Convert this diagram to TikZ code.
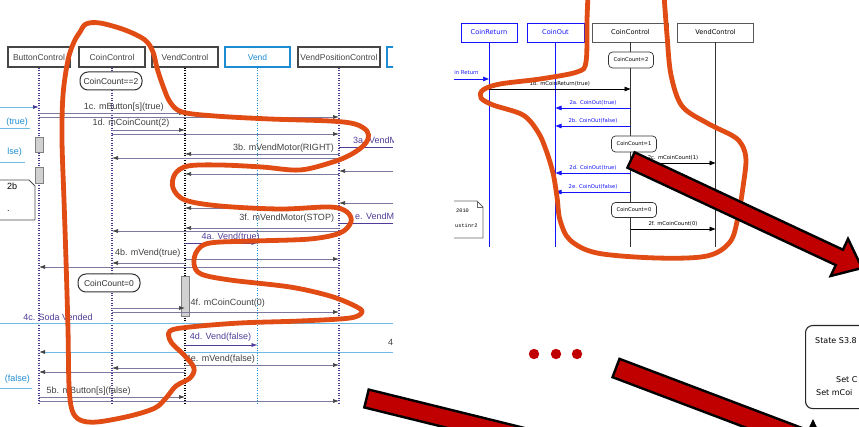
\documentclass[tikz,border=0pt]{standalone}
\usepackage{fontspec}
\setmainfont{Liberation Sans}
\newfontfamily\umlfont{DejaVu Sans}
\newfontfamily\notefont{Liberation Mono}
\usetikzlibrary{positioning}
\usetikzlibrary{arrows.meta}
\usetikzlibrary{calc}

\definecolor{boxgray}{RGB}{70,70,70}
\definecolor{vendblue}{RGB}{30,140,210}
\definecolor{lifepurple}{RGB}{70,60,150}
\definecolor{msggray}{RGB}{125,120,160}
\definecolor{msgpurple}{RGB}{80,60,150}
\definecolor{paleblue}{RGB}{110,185,225}
\definecolor{loopred}{RGB}{225,75,20}
\definecolor{blockred}{RGB}{192,0,0}
\definecolor{umlblue}{RGB}{20,20,250}

% block arrow: tail point, angle, length, half width of the shaft
\newcommand*{\BlockArrow}[4]{%
  \begin{scope}[shift={(#1)}, rotate=#2]
    \draw[blockarrow] (0,-#4) -- ({#3-25},-#4) -- ({#3-25},-20.5) -- (#3,0)
      -- ({#3-25},20.5) -- ({#3-25},#4) -- (0,#4) -- cycle;
  \end{scope}}

\tikzset{
  objbox/.style={draw=boxgray, line width=1.3pt, fill=white,
    minimum width=66pt, minimum height=20pt, inner sep=1pt,
    text=boxgray, font=\fontsize{8.5}{9}\selectfont},
  bluebox/.style={objbox, draw=vendblue, text=vendblue},
  lifeline/.style={lifepurple, line width=1.4pt, dash pattern=on 1.2pt off 1.3pt},
  msg/.style={draw=msggray, line width=0.6pt,
    -{Latex[length=6pt,width=4pt,color=black!75]}},
  lbl/.style={font=\fontsize{9}{10}\selectfont, text=black!75, inner sep=1pt},
  statebox/.style={draw=black!80, line width=1pt, fill=white, rounded corners=8pt,
    minimum width=62pt, minimum height=18pt, inner sep=1pt,
    font=\fontsize{8.5}{9}\selectfont, text=black!80},
  actbox/.style={draw=black!50, fill=black!18, line width=0.6pt,
    minimum width=8pt, inner sep=0pt},
  umlhead/.style={draw=black!65, line width=0.9pt, fill=white,
    minimum height=19pt, inner sep=1pt, font=\umlfont\fontsize{6.6}{7}\selectfont},
  umlbluehead/.style={umlhead, draw=umlblue, text=umlblue},
  umlstate/.style={draw=black!80, line width=0.7pt, fill=white, rounded corners=4pt,
    minimum width=45pt, minimum height=16pt, inner sep=1pt,
    font=\umlfont\fontsize{5.2}{6}\selectfont},
  umlmsg/.style={line width=0.7pt, -{Triangle[length=6pt,width=4.5pt]}},
  umllbl/.style={font=\umlfont\fontsize{5.3}{6}\selectfont, inner sep=1pt},
  redloop/.style={loopred, line width=4.8pt, line cap=round, line join=round},
  blockarrow/.style={draw=black, line width=2.4pt, fill=blockred, line join=miter}
}

\begin{document}
\begin{tikzpicture}[x=1pt, y=-1pt]
\useasboundingbox (0,0) rectangle (859,427);
\clip (0,0) rectangle (859,427);

% left sequence diagram
\begin{scope}
\clip (0,0) rectangle (393,427);
\node[objbox, minimum width=62pt] (bc) at (39,57) {ButtonControl};
\node[objbox] (cc) at (112,57) {CoinControl};
\node[objbox] (vc) at (185,57) {VendControl};
\node[bluebox, minimum width=65pt] (vd) at (257.5,57) {Vend};
\node[objbox, minimum width=82pt] (vp) at (339,57) {VendPositionControl};
\node[bluebox] (vx) at (420,57) {};

\foreach \n in {bc,cc,vp}
  \draw[lifeline] (\n.south) -- (\n.south |- 0,405);
\draw[lifeline, black] (vc.south) -- (vc.south |- 0,405);
\draw[lifeline, vendblue] (vd.south) -- (vd.south |- 0,405);

\node[statebox] (cnt2) at (111,81) {CoinCount==2};
\node[statebox] (cnt0) at (109,283) {CoinCount=0};

\node[actbox, minimum height=15pt] (act1) at (39,144.5) {};
\node[actbox, minimum height=16pt] (act2) at (39,175) {};
\node[actbox, minimum height=40pt] (act3) at (185,296) {};

% messages from the left edge
\coordinate (inL) at (0,107);
\draw[paleblue, line width=0.8pt, -{Latex[length=6pt,width=4pt,color=lifepurple]}] (inL) -- (bc.south |- inL);
\node[lbl, text=vendblue, anchor=east] (tr1) at (29,122) {(true)};
\draw[paleblue, line width=0.6pt] (0,128) -- (30,128);
\node[lbl, text=vendblue, anchor=east] (fa1) at (23,152) {lse)};
\draw[paleblue, line width=0.6pt] (0,162) -- (25,162);

\draw[msg] (bc.south |- 0,113) -- (vc.south |- 0,113)
  node[lbl, pos=0.58, above=0pt] {1c. mButton[s](true)};
\draw[msg] (bc.south |- 0,117) -- (vp.south |- 0,117);
\draw[msg] (cc.south |- 0,130) -- (vc.south |- 0,130)
  node[lbl, pos=0.26, above=1pt] {1d. mCoinCount(2)};
\draw[msg] (cc.south |- 0,134) -- (vp.south |- 0,134);

\draw[msgpurple, line width=0.6pt] (vp.south |- 0,147) -- (393,147);
\node[lbl, text=msgpurple, anchor=west] (m3a) at (352,140) {3a. VendM};
\draw[msg] (vp.south |- 0,154) -- (vc.south |- 0,154)
  node[lbl, pos=0.36, above=0pt] {3b. mVendMotor(RIGHT)};
\draw[msg] (vp.south |- 0,158) -- (cc.south |- 0,158);
\draw[msg] (393,171) -- (vp.south |- 0,171);
\draw[msg] (vp.south |- 0,174) -- (vc.south |- 0,174);

% note 2b
\draw[black!70, line width=0.8pt, fill=white] (-10,180) -- (29,180) -- (35,186) -- (35,220) -- (-10,220) -- cycle;
\node[lbl, text=black, anchor=west] (n2b) at (6,186) {2b};
\node[lbl, text=black, anchor=west] (n2dot) at (6,211) {.};

\draw[msg] (393,203) -- (vp.south |- 0,203);
\draw[msg] (vp.south |- 0,208) -- (vc.south |- 0,208);
\draw[msgpurple, line width=0.6pt] (vp.south |- 0,223) -- (393,223);
\node[lbl, text=msgpurple, anchor=west] (m3e) at (354,216) {e. VendM};
\draw[msg] (vp.south |- 0,228) -- (vc.south |- 0,228)
  node[lbl, pos=0.34, above=4pt] {3f. mVendMotor(STOP)};
\draw[msg] (vp.south |- 0,231) -- (cc.south |- 0,231);

\draw[msgpurple, line width=0.6pt, -{Latex[length=6pt,width=4pt]}] (vc.south |- 0,243) -- (vd.south |- 0,243)
  node[lbl, text=msgpurple, pos=0.63, above=0pt] {4a. Vend(true)};
\draw[msg] (vc.south |- 0,259) -- (vp.south |- 0,259);
\draw[msg] (vc.south |- 0,263) -- (cc.south |- 0,263)
  node[lbl, pos=0.51, above=4pt] {4b. mVend(true)};
\draw[msg] (vp.south |- 0,267) -- (bc.south |- 0,267);

\draw[msg] (cc.south |- 0,308) -- (vc.south |- 0,308);
\draw[msg] (cc.south |- 0,312) -- (vp.south |- 0,312)
  node[lbl, pos=0.51, above=3pt] {4f. mCoinCount(0)};
\draw[paleblue, line width=0.8pt] (0,323) -- (393,323);
\node[lbl, text=msgpurple] (m4c) at (58,317) {4c. Soda Vended};

\draw[msgpurple, line width=0.6pt, -{Latex[length=6pt,width=4pt]}] (vc.south |- 0,345) -- (vd.south |- 0,345)
  node[lbl, text=msgpurple, pos=0.49, above=2pt] {4d. Vend(false)};
\draw[paleblue, line width=0.8pt, -{Latex[length=6pt,width=4pt,color=black!75]}] (393,352) -- (bc.south |- 0,352);
\node[lbl, anchor=west] (m4x) at (387,342) {4};
\draw[msg] (vc.south |- 0,365) -- (vp.south |- 0,365)
  node[lbl, pos=0.23, above=0pt] {4e. mVend(false)};
\draw[msg] (vc.south |- 0,368) -- (cc.south |- 0,368);
\draw[msg] (vc.south |- 0,372) -- (bc.south |- 0,372);
\node[lbl, text=vendblue, anchor=east] (fa2) at (31,379) {(false)};
\draw[paleblue, line width=0.6pt] (0,388) -- (32,388);
\draw[msg] (bc.south |- 0,397) -- (vc.south |- 0,397)
  node[lbl, pos=0.34, above=0pt] {5b. mButton[s](false)};
\draw[msg] (bc.south |- 0,401) -- (vp.south |- 0,401);
\end{scope}

% right sequence diagram
\begin{scope}
\clip (454,0) rectangle (760,250);
\node[umlbluehead, minimum width=56pt] (cr) at (489,32.5) {CoinReturn};
\node[umlbluehead, minimum width=57pt] (co) at (555.5,32.5) {CoinOut};
\node[umlhead, minimum width=76pt] (ccr) at (630.5,32.5) {CoinControl};
\node[umlhead, minimum width=76pt] (vcr) at (715.5,32.5) {VendControl};
\foreach \n in {cr,co}
  \draw[umlblue, line width=0.9pt] (\n.south) -- (\n.south |- 0,247);
\foreach \n in {ccr,vcr}
  \draw[black!80, line width=0.9pt] (\n.south) -- (\n.south |- 0,247);

\node[umlstate] (cn2) at (631,60) {CoinCount=2};
\node[umlstate] (cn1) at (634,144) {CoinCount=1};
\node[umlstate, minimum height=15pt] (cn0) at (634,210) {CoinCount=0};

\coordinate (rin) at (452,79);
\draw[umlmsg, umlblue] (rin) -- (cr.south |- rin);
\node[umllbl, text=umlblue, anchor=west] (rinlbl) at (450,73) {oin Return};
\draw[umlmsg, black] (cr.south |- 0,89) -- (ccr.south |- 0,89)
  node[umllbl, midway, above=1pt] {1b. mCoinReturn(true)};
\draw[umlmsg, umlblue] (ccr.south |- 0,108) -- (co.south |- 0,108)
  node[umllbl, midway, above=1pt] {2a. CoinOut(true)};
\draw[umlmsg, umlblue] (ccr.south |- 0,126) -- (co.south |- 0,126)
  node[umllbl, midway, above=1pt] {2b. CoinOut(false)};
\draw[umlmsg, black] (ccr.south |- 0,163) -- (vcr.south |- 0,163)
  node[umllbl, midway, above=1pt] {2c. mCoinCount(1)};
\draw[umlmsg, umlblue] (ccr.south |- 0,173) -- (co.south |- 0,173)
  node[umllbl, midway, above=1pt] {2d. CoinOut(true)};
\draw[umlmsg, umlblue] (ccr.south |- 0,192) -- (co.south |- 0,192)
  node[umllbl, midway, above=1pt] {2e. CoinOut(false)};
\draw[umlmsg, black] (ccr.south |- 0,229) -- (vcr.south |- 0,229)
  node[umllbl, midway, above=1pt] {2f. mCoinCount(0)};

% note
\draw[black!60, line width=0.8pt, fill=white] (430,201) -- (477,201) -- (483,207) -- (483,238) -- (430,238) -- cycle;
\draw[black!60, line width=0.6pt] (477,201) -- (477,207) -- (483,207);
\node[font=\notefont\fontsize{5.3}{6}\selectfont, inner sep=0pt, anchor=west] (nyr) at (456,211) {2010};
\node[font=\notefont\fontsize{5.3}{6}\selectfont, inner sep=0pt, anchor=west] (nau) at (455,226) {ustinr2};
\end{scope}

% freehand outlines
\draw[redloop] plot[smooth cycle, tension=0.55] coordinates {
  (80,32) (86,24) (100,23) (125,30) (145,40) (153,52) (157,68) (163,86)
  (170,102) (182,112) (215,116) (270,119) (330,121) (355,124) (367,131)
  (368,139) (362,147) (350,155) (333,162) (300,170) (262,167) (220,165)
  (188,166) (175,174) (173,188) (185,200) (220,206) (280,209) (330,207)
  (347,212) (351,222) (340,233) (310,239) (255,241) (210,243) (197,251)
  (194,264) (201,274) (230,280) (290,287) (330,296) (355,306) (362,312)
  (350,318) (300,321) (240,323) (190,327) (170,331) (171,342) (184,355)
  (194,368) (190,378) (176,386) (166,398) (155,408) (130,416) (97,422)
  (80,420) (72,410) (69,385) (68,330) (66,260) (64,200) (62,140) (63,95)
  (68,60) (74,42)};
\draw[redloop] plot[smooth, tension=0.55] coordinates {
  (588,-5) (587,20) (586,62) (577,72) (540,79) (500,84) (483,90) (481,98)
  (493,105) (523,115) (538,132) (546,150) (553,173) (557,197) (560,220)
  (570,240) (597,253) (657,258) (707,256) (730,242) (738,217) (743,187)
  (746,160) (742,145) (733,136) (707,123) (682,106) (671,75) (667,35)
  (664,-5)};

% state box on the right
\node[draw=black!85, line width=1.1pt, rounded corners=7pt, minimum width=110pt,
  minimum height=83pt, anchor=north west, inner sep=0pt] (s38) at (805,325) {};
\node[font=\umlfont\fontsize{8}{9}\selectfont, anchor=west, inner sep=0pt] (s38a) at (815,341) {State S3.8};
\node[font=\umlfont\fontsize{8}{9}\selectfont, anchor=west, inner sep=0pt] (s38b) at (836,380) {Set C};
\node[font=\umlfont\fontsize{8}{9}\selectfont, anchor=west, inner sep=0pt] (s38c) at (816,393) {Set mCoi};
\coordinate (uptail) at (813,440);
\draw[black, line width=1pt, -{Triangle[length=12pt,width=11pt]}] (uptail) -- (813,419);

% dots
\foreach \x in {534,556,577}
  \fill[blockred] (\x,354) circle (5.2);

% block arrows
\BlockArrow{631,160}{-25.06}{255}{8.5}
\BlockArrow{366.5,398.5}{-13.86}{282}{9.2}
\BlockArrow{616,368}{-20.75}{282}{9.8}
\end{tikzpicture}
\end{document}
